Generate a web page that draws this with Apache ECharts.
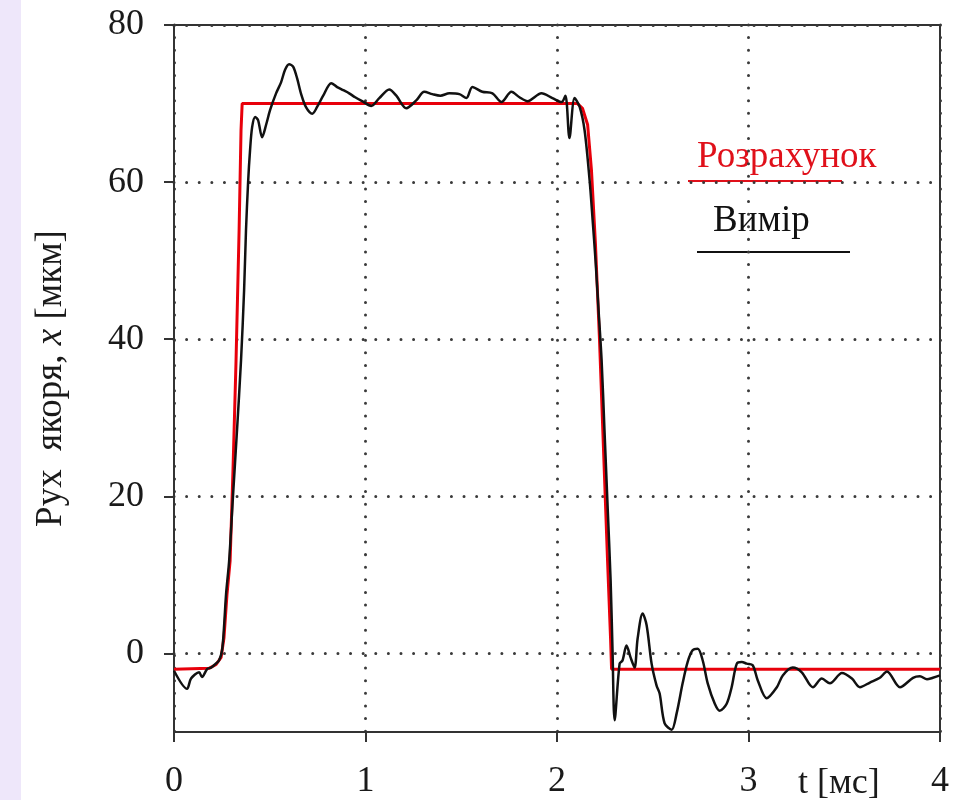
<!DOCTYPE html>
<html>
<head>
<meta charset="utf-8">
<title>Рух якоря</title>
<script src="https://cdn.jsdelivr.net/npm/echarts@6/dist/echarts.min.js"></script>
<style>
    html, body { margin: 0; padding: 0; background: #fff; }
    #armature_con { width: 968px; height: 800px; }
</style>
</head>
<body>
<div id="armature_con"></div>
<script>
// t, мс
var xTicks = [0, 1, 2, 3, 4];
var yTicks = [0, 20, 40, 60, 80];

// Розрахунок (red)
var calcT = [0, 0.183, 0.220, 0.246, 0.261, 0.277, 0.293, 0.308, 0.324, 0.340, 0.350, 0.356,
    2.107, 2.133, 2.160, 2.180, 2.201, 2.222, 2.243, 2.264, 2.280, 2.285, 4.0];
var calcX = [-2, -1.9, -1.4, -0.5, 2.0, 7.6, 11.8, 23.3, 37.3, 53.9, 66.6, 70,
    70, 69.4, 67.3, 61.5, 52, 39.9, 25.9, 11.8, 1.7, -2, -2];

// Вимір (black)
var measT = [0, 0.068, 0.089, 0.131, 0.146, 0.173, 0.193, 0.209, 0.235, 0.251, 0.261, 0.272, 0.288,
    0.308, 0.329, 0.350, 0.366, 0.376, 0.387, 0.397, 0.408, 0.424, 0.439, 0.460, 0.481, 0.502,
    0.533, 0.559, 0.580, 0.601, 0.622, 0.643, 0.664, 0.690, 0.722, 0.748, 0.779, 0.821, 0.852,
    0.884, 0.915, 0.946, 0.983, 1.030, 1.072, 1.124, 1.161, 1.213, 1.265, 1.307, 1.349, 1.391,
    1.438, 1.490, 1.527, 1.558, 1.610, 1.663, 1.710, 1.762, 1.804, 1.846, 1.919, 1.976, 2.024,
    2.044, 2.065, 2.092, 2.118, 2.144, 2.170, 2.186, 2.201, 2.217, 2.233, 2.248, 2.264, 2.280,
    2.290, 2.301, 2.327, 2.342, 2.363, 2.384, 2.405, 2.421, 2.447, 2.468, 2.494, 2.520, 2.536,
    2.562, 2.599, 2.625, 2.656, 2.682, 2.708, 2.735, 2.761, 2.787, 2.824, 2.850, 2.886, 2.912,
    2.939, 2.965, 2.991, 3.022, 3.048, 3.095, 3.148, 3.179, 3.231, 3.278, 3.336, 3.383, 3.425,
    3.488, 3.540, 3.582, 3.634, 3.686, 3.723, 3.791, 3.859, 3.895, 3.932, 3.963, 4.0];
var measX = [-2.2, -4.5, -3.2, -2.4, -3.0, -2.0, -1.8, -1.5, -0.9, 0.4, 3.3, 7.6, 11.8,
    20, 28.4, 37.3, 46.2, 53.9, 60, 64, 67, 68.3, 67.9, 65.7, 67.3, 69.2,
    71.3, 72.7, 74.3, 75, 74.7, 73.2, 71.2, 69.5, 68.7, 69.6, 71, 72.6, 72.1,
    71.7, 71.3, 70.8, 70.3, 69.7, 70.7, 71.8, 71, 69.4, 70.4, 71.5, 71.2, 71,
    71.3, 71.2, 70.7, 72.1, 71.5, 71.3, 70.2, 71.5, 70.8, 70.3, 71.3, 70.7, 70.2,
    71, 65.6, 70.7, 69.6, 66.6, 60.3, 55.2, 50.1, 43.7, 37.3, 28.4, 18.9, 9.3,
    0.4, -8.5, -1.3, -0.9, 1.0, -0.5, -1.8, 1.9, 5.1, 3.6, -1.3, -4.1, -5.1,
    -8.9, -9.7, -7.6, -3.8, -1.1, 0.4, 0.6, -0.9, -3.8, -6.4, -7.3, -6.4, -4.3,
    -1.3, -1.1, -1.3, -1.5, -3.4, -5.7, -4.3, -2.8, -1.8, -2.4, -4.3, -3.2, -3.8,
    -2.5, -3.2, -4.3, -3.7, -3.1, -2.3, -4.3, -3.1, -2.9, -3.3, -3.1, -2.8];

function pairs(xs, ys) {
    return xs.map(function (v, i) { return [v, ys[i]]; });
}

var serif = '"Liberation Serif", "DejaVu Serif", serif';
var axisColor = '#333';
var dotted = { type: [0.01, 12.6], cap: 'round', width: 3, color: '#3a3a3a' };

var chart = echarts.init(document.getElementById('armature_con'));
const option = {
    backgroundColor: '#fff',
    animation: false,
    grid: { left: 174, right: 28, top: 25, bottom: 68, show: true, borderColor: axisColor, borderWidth: 2 },
    xAxis: {
        type: 'value',
        min: 0,
        max: 4,
        interval: 1,
        axisLine: { show: true, onZero: false, lineStyle: { color: axisColor, width: 2 } },
        axisTick: { show: true, length: 10, lineStyle: { color: axisColor, width: 2 } },
        axisLabel: { fontFamily: serif, fontSize: 36, color: '#1a1a1a', margin: 32 },
        splitLine: { show: true, lineStyle: dotted }
    },
    yAxis: {
        type: 'value',
        min: -10,
        max: 80,
        name: 'Рух  якоря, {i|x} [мкм]',
        nameLocation: 'middle',
        nameRotate: 90,
        nameGap: 104,
        nameTextStyle: {
            fontFamily: serif, fontSize: 37, color: '#1a1a1a',
            rich: { i: { fontFamily: serif, fontSize: 37, fontStyle: 'italic', color: '#1a1a1a' } }
        },
        axisLine: { show: true, lineStyle: { color: axisColor, width: 2 } },
        axisTick: { show: true, length: 10, customValues: yTicks, lineStyle: { color: axisColor, width: 2 } },
        axisLabel: { customValues: yTicks, fontFamily: serif, fontSize: 36, color: '#1a1a1a', margin: 30 },
        splitLine: { show: true, lineStyle: dotted }
    },
    graphic: [
        { type: 'rect', z: -10, shape: { x: 0, y: 0, width: 21, height: 800 }, style: { fill: '#eee7fa' } },
        { type: 'text', x: 697, y: 157, style: { text: 'Розрахунок', fill: '#e0101a', font: '37px ' + serif, verticalAlign: 'middle' } },
        { type: 'line', shape: { x1: 688, y1: 181, x2: 842, y2: 181 }, style: { stroke: '#e0101a', lineWidth: 2 } },
        { type: 'text', x: 713, y: 221, style: { text: 'Вимір', fill: '#111', font: '37px ' + serif, verticalAlign: 'middle' } },
        { type: 'line', shape: { x1: 697, y1: 252, x2: 850, y2: 252 }, style: { stroke: '#111', lineWidth: 2 } },
        { type: 'text', x: 798, y: 784, style: { text: 't [мс]', fill: '#1a1a1a', font: '36px ' + serif, verticalAlign: 'middle' } }
    ],
    series: [
        {
            name: 'Розрахунок',
            type: 'line',
            data: pairs(calcT, calcX),
            showSymbol: false,
            smooth: false,
            lineStyle: { color: '#e8000b', width: 3 },
            z: 2
        },
        {
            name: 'Вимір',
            type: 'line',
            data: pairs(measT, measX),
            showSymbol: false,
            smooth: 0.3,
            lineStyle: { color: '#111', width: 2.5 },
            z: 3
        }
    ]
};
chart.setOption(option);
window.addEventListener('resize', function () {
    chart.resize();
});
</script>
</body>
</html>
